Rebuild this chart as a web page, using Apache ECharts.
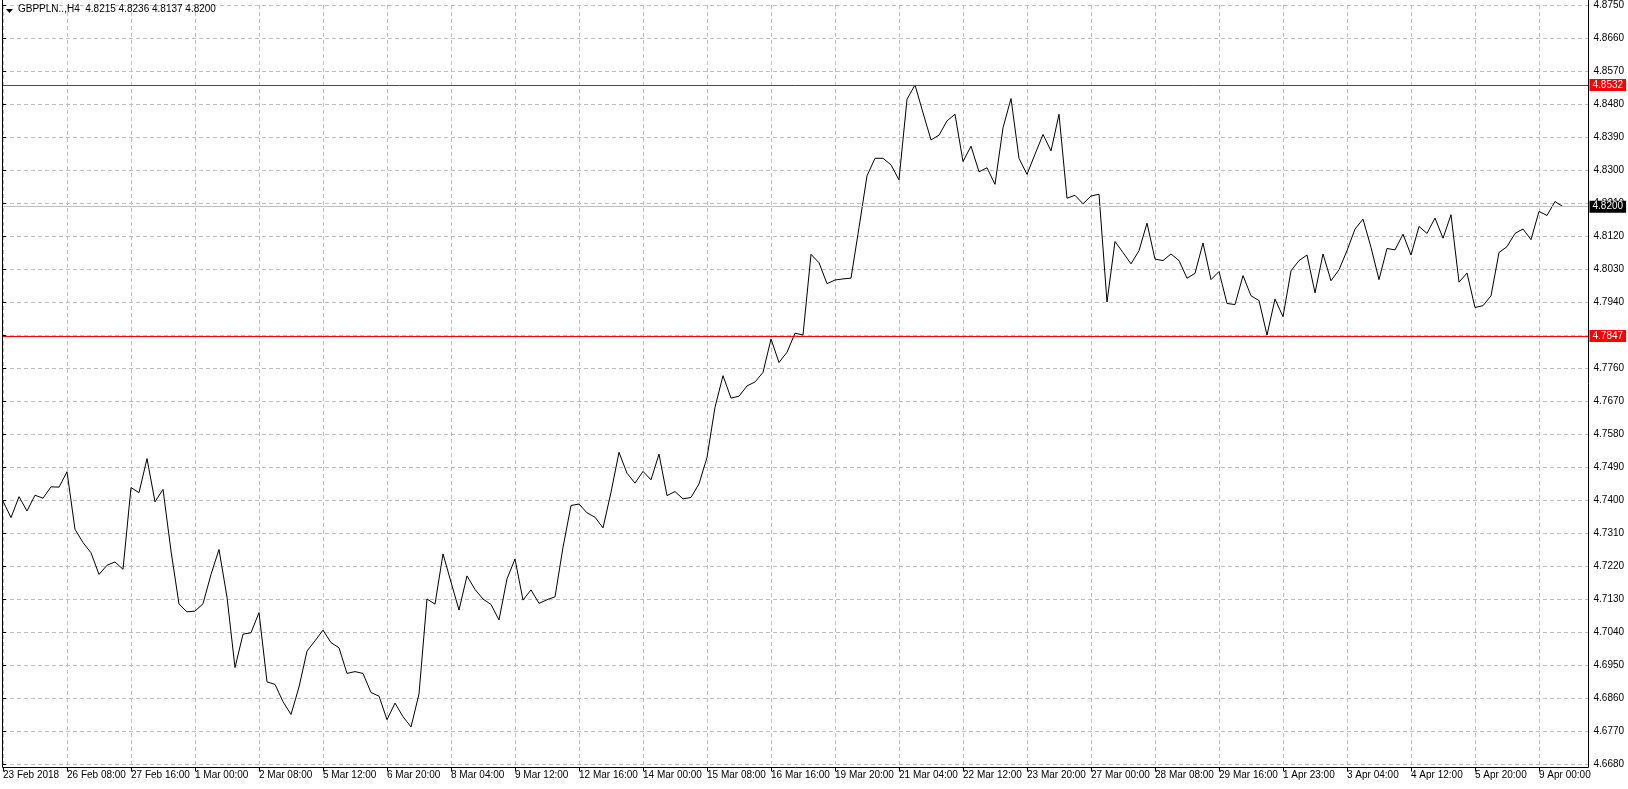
<!DOCTYPE html>
<html>
<head>
<meta charset="utf-8">
<script src="https://cdn.jsdelivr.net/npm/echarts@6/dist/echarts.min.js"></script>
<style>
html,body{margin:0;padding:0;background:#fff;}
#chart{width:1628px;height:789px;}
</style>
</head>
<body>
<div id="chart"></div>
<script>
// ---- data ----
const symbolTitle = 'GBPPLN..,H4';
const lastBarOHLC = [4.8215, 4.8236, 4.8137, 4.8200];

const tickLabels = [
  '23 Feb 2018','26 Feb 08:00','27 Feb 16:00','1 Mar 00:00','2 Mar 08:00','5 Mar 12:00',
  '6 Mar 20:00','8 Mar 04:00','9 Mar 12:00','12 Mar 16:00','14 Mar 00:00','15 Mar 08:00',
  '16 Mar 16:00','19 Mar 20:00','21 Mar 04:00','22 Mar 12:00','23 Mar 20:00','27 Mar 00:00',
  '28 Mar 08:00','29 Mar 16:00','1 Apr 23:00','3 Apr 04:00','4 Apr 12:00','5 Apr 20:00','9 Apr 00:00'
];
const barsPerLabel = 8;

const closes = [
  4.7397,4.7352,4.7409,4.7370,4.7413,4.7405,4.7436,4.7435,4.7477,4.7320,
  4.7284,4.7256,4.7197,4.7222,4.7231,4.7211,4.7434,4.7420,4.7513,4.7395,
  4.7429,4.7261,4.7116,4.7095,4.7097,4.7117,4.7197,4.7265,4.7135,4.6943,
  4.7034,4.7038,4.7093,4.6904,4.6897,4.6850,4.6815,4.6890,4.6988,4.7016,
  4.7045,4.7011,4.6997,4.6927,4.6932,4.6927,4.6875,4.6865,4.6801,4.6846,
  4.6809,4.6781,4.6871,4.7130,4.7116,4.7253,4.7176,4.7100,4.7193,4.7156,
  4.7130,4.7115,4.7073,4.7185,4.7239,4.7127,4.7155,4.7118,4.7128,4.7136,
  4.7271,4.7385,4.7389,4.7365,4.7353,4.7324,4.7421,4.7530,4.7473,4.7446,
  4.7478,4.7455,4.7525,4.7412,4.7423,4.7403,4.7407,4.7444,4.7516,4.7653,
  4.7739,4.7678,4.7683,4.7711,4.7722,4.7748,4.7839,4.7775,4.7803,4.7855,
  4.7850,4.8070,4.8047,4.7990,4.8000,4.8003,4.8005,4.8143,4.8284,4.8332,
  4.8332,4.8314,4.8273,4.8493,4.8532,4.8456,4.8382,4.8395,4.8434,4.8452,
  4.8323,4.8365,4.8295,4.8306,4.8261,4.8415,4.8495,4.8332,4.8288,4.8343,
  4.8397,4.8352,4.8452,4.8223,4.8231,4.8208,4.8229,4.8234,4.7940,4.8105,
  4.8075,4.8044,4.8080,4.8155,4.8057,4.8053,4.8071,4.8053,4.8005,4.8018,
  4.8101,4.8001,4.8023,4.7936,4.7933,4.8012,4.7957,4.7944,4.7850,4.7948,
  4.7900,4.8025,4.8053,4.8068,4.7965,4.8071,4.7998,4.8028,4.8080,4.8139,
  4.8166,4.8089,4.8001,4.8086,4.8082,4.8125,4.8068,4.8146,4.8127,4.8169,
  4.8114,4.8178,4.7994,4.8019,4.7925,4.7930,4.7957,4.8075,4.8091,4.8127,
  4.8139,4.8110,4.8187,4.8176,4.8214,4.8200
];

const levelHigh = 4.8532;
const levelLow = 4.7847;
const lastPrice = 4.8200;

const yMin = 4.6680;
const yMax = 4.8750;
const yStep = 0.0090;

// ---- chart ----
const FONT = 'Liberation Sans';
const GRID_LEFT = 3, GRID_RIGHT = 39.5, GRID_TOP = 4.5, GRID_BOTTOM = 25;
const PX_PER_BAR = 8;
const plotWidth = 1628 - GRID_LEFT - GRID_RIGHT;
const xMax = plotWidth / PX_PER_BAR;

const labelBars = tickLabels.map((_, i) => i * barsPerLabel);

const chart = echarts.init(document.getElementById('chart'), null, {renderer: 'canvas'});

const gridLine = {show: true, lineStyle: {color: '#c0c0c0', type: [4, 3], width: 1}};

chart.setOption({
  animation: false,
  backgroundColor: '#ffffff',
  grid: {left: GRID_LEFT, right: GRID_RIGHT, top: GRID_TOP, bottom: GRID_BOTTOM, containLabel: false},
  xAxis: {
    type: 'value',
    min: 0,
    max: xMax,
    interval: 4,
    offset: 3.5,
    axisLine: {show: false},
    splitLine: gridLine,
    axisTick: {show: true, length: 4, lineStyle: {color: '#000'}, customValues: labelBars},
    axisLabel: {
      customValues: labelBars,
      align: 'left',
      margin: 3,
      color: '#000',
      fontFamily: FONT,
      fontSize: 10,
      formatter: v => (v % barsPerLabel === 0 && tickLabels[v / barsPerLabel]) ? tickLabels[v / barsPerLabel] : ''
    }
  },
  yAxis: {
    type: 'value',
    position: 'right',
    min: yMin,
    max: yMax,
    interval: yStep,
    scale: true,
    axisLine: {show: false},
    splitLine: gridLine,
    axisTick: {show: true, length: 3, lineStyle: {color: '#000'}},
    axisLabel: {
      margin: 5,
      color: '#000',
      fontFamily: FONT,
      fontSize: 10,
      formatter: v => v.toFixed(4)
    }
  },
  series: [{
    type: 'line',
    data: closes.map((v, i) => [i, v]),
    showSymbol: false,
    silent: true,
    lineStyle: {color: '#000', width: 1},
    z: 3,
    markLine: {
      silent: true,
      symbol: 'none',
      animation: false,
      precision: 4,
      lineStyle: {type: 'solid', width: 1},
      label: {
        show: true,
        position: 'end',
        distance: 1,
        color: '#fff',
        fontFamily: FONT,
        fontSize: 10,
        lineHeight: 10,
        padding: [1, 3, 1, 3],
        formatter: p => Number(p.value).toFixed(4)
      },
      data: [
        {yAxis: levelHigh, lineStyle: {color: '#ff0000'}, label: {backgroundColor: '#ff0000'}},
        {yAxis: levelLow, lineStyle: {color: '#ff0000'}, label: {backgroundColor: '#ff0000'}},
        {yAxis: lastPrice, lineStyle: {color: '#c0c0c0'}, label: {backgroundColor: '#000000'}}
      ]
    }
  }],
  graphic: [
    {type: 'line', z: 10, shape: {x1: 2.5, y1: 0, x2: 2.5, y2: 767.5}, style: {stroke: '#000', lineWidth: 1}},
    {type: 'line', z: 10, shape: {x1: 1588.5, y1: 0, x2: 1588.5, y2: 767.5}, style: {stroke: '#000', lineWidth: 1}},
    {type: 'line', z: 10, shape: {x1: 2.5, y1: 767.5, x2: 1588.5, y2: 767.5}, style: {stroke: '#000', lineWidth: 1}},
    {type: 'polygon', z: 10, shape: {points: [[6, 9], [13, 9], [9.5, 13]]}, style: {fill: '#000'}},
    {type: 'text', z: 10, left: 18, top: 4, style: {
      text: symbolTitle + '  ' + lastBarOHLC.map(v => v.toFixed(4)).join(' '),
      fill: '#000', font: '10px "Liberation Sans"'
    }}
  ]
});
</script>
</body>
</html>
